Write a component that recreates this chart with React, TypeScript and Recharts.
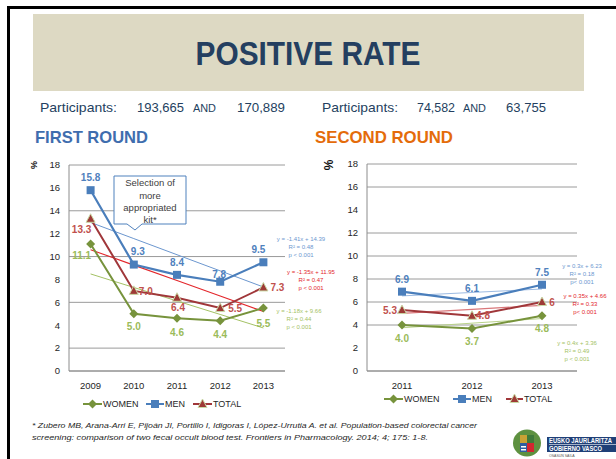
import React from "react";
import { LineChart, Line, XAxis, YAxis, CartesianGrid, LabelList } from "recharts";

// first round (2009-2013)
const years1 = ["2009", "2010", "2011", "2012", "2013"];
const women1 = [11.1, 5.0, 4.6, 4.4, 5.5];
const men1 = [15.8, 9.3, 8.4, 7.8, 9.5];
const total1 = [13.3, 7.0, 6.4, 5.5, 7.3];
const womenTrend1 = [8.48, 7.3, 6.12, 4.94, 3.76];
const menTrend1 = [12.98, 11.57, 10.16, 8.75, 7.34];
const totalTrend1 = [10.6, 9.25, 7.9, 6.55, 5.2];

// second round (2011-2013)
const years2 = ["2011", "2012", "2013"];
const women2 = [4.0, 3.7, 4.8];
const men2 = [6.9, 6.1, 7.5];
const total2 = [5.3, 4.8, 6];
const womenTrend2 = [3.76, 4.16, 4.56];
const menTrend2 = [6.53, 6.83, 7.13];
const totalTrend2 = [5.01, 5.36, 5.71];

const yTicks = [0, 2, 4, 6, 8, 10, 12, 14, 16, 18];

const FONT = "'Liberation Sans', Arial, sans-serif";
const MEN_C = "#4A7EBB";
const WOMEN_C = "#77933C";
const TOTAL_C = "#A0373A";
const MEN_LBL = "#4F81BD";
const TOTAL_LBL = "#C0504D";
const WOMEN_LBL = "#9BBB59";

const rows1 = years1.map((year, i) => ({
  year,
  women: women1[i],
  men: men1[i],
  total: total1[i],
  womenTrend: womenTrend1[i],
  menTrend: menTrend1[i],
  totalTrend: totalTrend1[i],
}));
const rows2 = years2.map((year, i) => ({
  year,
  women: women2[i],
  men: men2[i],
  total: total2[i],
  womenTrend: womenTrend2[i],
  menTrend: menTrend2[i],
  totalTrend: totalTrend2[i],
}));

// label offsets from each point (dx, dy)
const menOff1 = [[0, -13], [4, -13], [0, -12], [-1, -7], [-5, -13]];
const totalOff1 = [[-9, 11], [12, 1], [1, 10], [15, 0], [14, 0]];
const womenOff1 = [[-9, 12], [0, 13], [0, 14], [0, 14], [0, 15]];
const menOff2 = [[0, -12], [0, -12], [0, -12]];
const totalOff2 = [[-12, 0], [11, 0], [10, 0]];
const womenOff2 = [[0, 13], [0, 13], [0, 13]];

const fix1 = (v: number) => v.toFixed(1);
const plain = (v: number) => String(v);

const makeLabel = (offsets: number[][], color: string, fmt: (v: number) => string) => (p: any) => {
  const vb = p.viewBox || {};
  const x = p.x ?? vb.x;
  const y = p.y ?? vb.y;
  const off = offsets[p.index] || [0, 0];
  if (x == null || y == null) return null;
  return (
    <text
      x={x + off[0]}
      y={y + off[1]}
      textAnchor="middle"
      dominantBaseline="central"
      fill={color}
      fontSize={10}
      fontWeight="bold"
      fontFamily={FONT}
    >
      {fmt(Number(p.value))}
    </text>
  );
};

const squarePts = (cx: number, cy: number) => <rect x={cx - 4} y={cy - 4} width={8} height={8} fill={MEN_C} />;
const diamondPts = (cx: number, cy: number) => (
  <polygon points={`${cx},${cy - 4.5} ${cx + 4.5},${cy} ${cx},${cy + 4.5} ${cx - 4.5},${cy}`} fill={WOMEN_C} />
);
const trianglePts = (cx: number, cy: number) => (
  <polygon
    points={`${cx},${cy - 5} ${cx + 4.5},${cy + 3.5} ${cx - 4.5},${cy + 3.5}`}
    fill="#9E3A36"
    stroke="#C9D9A6"
    strokeWidth={1}
  />
);

const dotOf = (draw: (cx: number, cy: number) => React.ReactElement) => (p: any) => {
  if (p.cx == null || p.cy == null) return <g key={p.index} />;
  return <g key={p.index}>{draw(p.cx, p.cy)}</g>;
};

const tickStyle = { fontSize: 9.5, fill: "#262626", fontFamily: FONT };

type ChartProps = {
  rows: any[];
  width: number;
  margin: { top: number; right: number; left: number; bottom: number };
  yWidth: number;
  pad: number;
  trendC: { men: string; total: string; women: string };
  off: { men: number[][]; total: number[][]; women: number[][] };
  totalFmt: (v: number) => string;
};

const RoundChart = ({ rows, width, margin, yWidth, pad, trendC, off, totalFmt }: ChartProps) => (
  <LineChart width={width} height={255} data={rows} margin={margin}>
    <CartesianGrid vertical={false} stroke="#9A9A9A" />
    <XAxis
      dataKey="year"
      padding={{ left: pad, right: pad }}
      tickLine={false}
      axisLine={{ stroke: "#8C8C8C" }}
      tick={tickStyle}
      tickMargin={5}
      interval={0}
    />
    <YAxis
      domain={[0, 18]}
      ticks={yTicks}
      width={yWidth}
      tickLine={false}
      axisLine={{ stroke: "#8C8C8C" }}
      tick={tickStyle}
      tickMargin={3}
    />
    <Line dataKey="menTrend" stroke={trendC.men} strokeWidth={1} dot={false} isAnimationActive={false} />
    <Line dataKey="totalTrend" stroke={trendC.total} strokeWidth={1.1} dot={false} isAnimationActive={false} />
    <Line dataKey="womenTrend" stroke={trendC.women} strokeWidth={1} dot={false} isAnimationActive={false} />
    <Line dataKey="women" stroke={WOMEN_C} strokeWidth={2} dot={dotOf(diamondPts)} isAnimationActive={false}>
      <LabelList dataKey="women" content={makeLabel(off.women, WOMEN_LBL, fix1)} />
    </Line>
    <Line dataKey="total" stroke={TOTAL_C} strokeWidth={2} dot={dotOf(trianglePts)} isAnimationActive={false}>
      <LabelList dataKey="total" content={makeLabel(off.total, TOTAL_LBL, totalFmt)} />
    </Line>
    <Line dataKey="men" stroke={MEN_C} strokeWidth={2.2} dot={dotOf(squarePts)} isAnimationActive={false}>
      <LabelList dataKey="men" content={makeLabel(off.men, MEN_LBL, fix1)} />
    </Line>
  </LineChart>
);

const Legend = ({ y, items }: { y: number; items: { x1: number; x2: number; name: string; color: string; mark: (cx: number, cy: number) => React.ReactElement }[] }) => (
  <g>
    {items.map((it) => (
      <g key={it.name}>
        <line x1={it.x1} x2={it.x2} y1={y} y2={y} stroke={it.color} strokeWidth={2} />
        {it.mark((it.x1 + it.x2) / 2, y)}
        <text x={it.x2 + 1} y={y} dominantBaseline="central" fontSize={9} fill="#262626" fontFamily={FONT}>
          {it.name}
        </text>
      </g>
    ))}
  </g>
);

const Equation = ({ cx, y, color, lines }: { cx: number; y: number; color: string; lines: string[] }) => (
  <g>
    {lines.map((t, i) => (
      <text key={i} x={cx} y={y + i * 8} textAnchor="middle" dominantBaseline="central" fontSize={6} fill={color} fontFamily={FONT}>
        {t}
      </text>
    ))}
  </g>
);

export default function App() {
  return (
    <div style={{ position: "absolute", left: 0, top: 0, width: 616, height: 459, background: "#fff", overflow: "hidden" }}>
      <div style={{ position: "absolute", left: 0, top: 150 }}>
        <RoundChart
          rows={rows1}
          width={300}
          margin={{ top: 15, right: 15, left: 0, bottom: 4 }}
          yWidth={69}
          pad={21.6}
          trendC={{ men: "#6C97CF", total: "#E3262B", women: "#A4C265" }}
          off={{ men: menOff1, total: totalOff1, women: womenOff1 }}
          totalFmt={fix1}
        />
      </div>
      <div style={{ position: "absolute", left: 300, top: 150 }}>
        <RoundChart
          rows={rows2}
          width={300}
          margin={{ top: 14, right: 23, left: 0, bottom: 4 }}
          yWidth={67}
          pad={35}
          trendC={{ men: "#9DBBE2", total: "#D9777A", women: "#B9D28A" }}
          off={{ men: menOff2, total: totalOff2, women: womenOff2 }}
          totalFmt={plain}
        />
      </div>
      <svg width={616} height={459} style={{ position: "absolute", left: 0, top: 0, pointerEvents: "none" }} fontFamily={FONT}>
        <rect x={7} y={6} width={609} height={3} fill="#000" />
        <rect x={7} y={6} width={3} height={453} fill="#000" />
        <rect x={33} y={14} width={551} height={77} fill="#DDD9C3" />
        <text x={308} y={65} textAnchor="middle" fontSize={34} fontWeight="bold" fill="#243F60" textLength={225} lengthAdjust="spacingAndGlyphs">
          POSITIVE RATE
        </text>

        <g fill="#243F60" fontSize={13}>
          <text x={40} y={112} textLength={77} lengthAdjust="spacingAndGlyphs">Participants:</text>
          <text x={137} y={112} textLength={47} lengthAdjust="spacingAndGlyphs">193,665</text>
          <text x={193} y={112} fontSize={10} textLength={23} lengthAdjust="spacingAndGlyphs">AND</text>
          <text x={237} y={112} textLength={48} lengthAdjust="spacingAndGlyphs">170,889</text>
          <text x={322} y={112} textLength={76} lengthAdjust="spacingAndGlyphs">Participants:</text>
          <text x={417} y={112} textLength={38} lengthAdjust="spacingAndGlyphs">74,582</text>
          <text x={463} y={112} fontSize={10} textLength={23} lengthAdjust="spacingAndGlyphs">AND</text>
          <text x={506} y={112} textLength={40} lengthAdjust="spacingAndGlyphs">63,755</text>
        </g>
        <text x={35} y={143} fontSize={17} fontWeight="bold" fill="#3F6DAE" textLength={113} lengthAdjust="spacingAndGlyphs">
          FIRST ROUND
        </text>
        <text x={315} y={143} fontSize={17} fontWeight="bold" fill="#E46C0A" textLength={138} lengthAdjust="spacingAndGlyphs">
          SECOND ROUND
        </text>

        <text x={0} y={0} transform="translate(34,165) rotate(-90)" textAnchor="middle" dominantBaseline="central" fontSize={9} fontWeight="bold" fill="#111">
          %
        </text>
        <text x={0} y={0} transform="translate(329,165) rotate(-90)" textAnchor="middle" dominantBaseline="central" fontSize={12} fontWeight="bold" fill="#111">
          %
        </text>

        <path d="M114,176 H186 V224 H142 L135,230 L127,224 H114 Z" fill="#fff" stroke="#4F81BD" strokeWidth={1} />
        <g fontSize={9.5} fill="#404040" textAnchor="middle" dominantBaseline="central">
          <text x={150} y={182}>Selection of</text>
          <text x={150} y={195}>more</text>
          <text x={150} y={207}>appropriated</text>
          <text x={150} y={219}>kit*</text>
        </g>

        <Equation cx={301} y={239} color="#6C97CF" lines={["y = -1.41x + 14.39", "R² = 0.48", "p < 0.001"]} />
        <Equation cx={311} y={272} color="#E3262B" lines={["y = -1.35x + 11.95", "R² = 0.47", "p < 0.001"]} />
        <Equation cx={299} y={311} color="#A4C265" lines={["y = -1.18x + 9.66", "R² = 0.44", "p < 0.001"]} />
        <Equation cx={582} y={266} color="#6C97CF" lines={["y = 0.3x + 6.23", "R² = 0.18", "p< 0.001"]} />
        <Equation cx={585} y={296} color="#E3262B" lines={["y = 0.35x + 4.66", "R² = 0.33", "p< 0.001"]} />
        <Equation cx={577} y={343} color="#A4C265" lines={["y = 0.4x + 3.36", "R² = 0.49", "p < 0.001"]} />

        <Legend
          y={404}
          items={[
            { x1: 83, x2: 102, name: "WOMEN", color: WOMEN_C, mark: diamondPts },
            { x1: 146, x2: 164, name: "MEN", color: MEN_C, mark: squarePts },
            { x1: 193, x2: 212, name: "TOTAL", color: TOTAL_C, mark: trianglePts },
          ]}
        />
        <Legend
          y={399}
          items={[
            { x1: 384, x2: 403, name: "WOMEN", color: WOMEN_C, mark: diamondPts },
            { x1: 453, x2: 471, name: "MEN", color: MEN_C, mark: squarePts },
            { x1: 506, x2: 523, name: "TOTAL", color: TOTAL_C, mark: trianglePts },
          ]}
        />

        <g fontSize={8} fontStyle="italic" fill="#262626">
          <text x={32} y={428} textLength={445} lengthAdjust="spacingAndGlyphs">
            * Zubero MB, Arana-Arri E, Pijoán JI, Portillo I, Idigoras I, López-Urrutia A. et al.  Population-based colorectal cancer
          </text>
          <text x={32} y={440} textLength={396} lengthAdjust="spacingAndGlyphs">
            screening: comparison of two fecal occult blood test. Frontiers in Pharmacology. 2014; 4; 175: 1-8.
          </text>
        </g>

        <g>
          <ellipse cx={527} cy={443} rx={14} ry={13.5} fill="#5E9140" />
          <rect x={520} y={435} width={7} height={8} fill="#C9A235" />
          <rect x={527} y={435} width={7} height={8} fill="#3F7A3A" />
          <rect x={520} y={443} width={7} height={9} fill="#2E5FA0" />
          <rect x={527} y={443} width={7} height={9} fill="#D22630" />
          <rect x={521} y={446} width={5} height={1.5} fill="#fff" />
          <rect x={521} y={449} width={5} height={1.5} fill="#fff" />
          <rect x={547} y={437} width={69} height={15} fill="#1F3F77" />
          <line x1={549} x2={616} y1={444.5} y2={444.5} stroke="#fff" strokeWidth={0.6} />
          <text x={549} y={443} fontSize={6.3} fontWeight="bold" fill="#fff" textLength={63} lengthAdjust="spacingAndGlyphs">
            EUSKO JAURLARITZA
          </text>
          <text x={549} y={451} fontSize={6.3} fontWeight="bold" fill="#fff" textLength={53} lengthAdjust="spacingAndGlyphs">
            GOBIERNO VASCO
          </text>
          <text x={549} y={457} fontSize={3.5} fill="#555">OSASUN SAILA</text>
        </g>
      </svg>
    </div>
  );
}
